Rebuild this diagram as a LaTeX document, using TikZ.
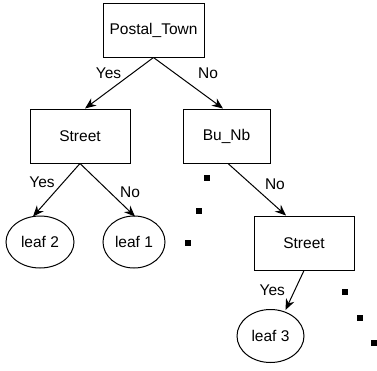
\documentclass[tikz,border=0pt]{standalone}
\usepackage{fontspec}
\setmainfont{Liberation Sans}
\usetikzlibrary{arrows.meta,shapes.geometric}

\begin{document}
\begin{tikzpicture}[
  x=1pt, y=-1pt,
  test/.style={draw, line width=1pt, minimum height=54pt, inner sep=0pt},
  leaf/.style={draw, line width=1pt, ellipse, minimum height=52pt, inner sep=0pt},
  branch/.style={line width=1pt, -{Stealth[length=11pt,width=9pt]}},
  gap/.style={fill=black, minimum size=6pt, inner sep=0pt},
  every node/.style={font=\fontsize{15.5}{18}\selectfont}
]
\useasboundingbox (0,0) rectangle (377,370);

\node[test, minimum width=101pt] (town) at (153.5,30) {Postal\_Town};
\node[test, minimum width=100pt] (street) at (80,136) {Street};
\node[test, minimum width=87pt] (bunb) at (226.5,136) {Bu\_Nb};
\node[test, minimum width=100pt] (street2) at (304,243) {Street};
\node[leaf, minimum width=68pt] (leaf2) at (40,242) {leaf 2};
\node[leaf, minimum width=62pt] (leaf1) at (134,242) {leaf 1};
\node[leaf, minimum width=67pt, minimum height=53pt] (leaf3) at (270.5,336) {leaf 3};

\draw[branch] (town.south) -- ([xshift=5pt]street.north) node[pos=0.3, left=8pt] {Yes};
\draw[branch] (town.south) -- ([xshift=-3.5pt]bunb.north) node[pos=0.3, right=20pt] {No};
\draw[branch] (street.south) -- ([xshift=-7pt,yshift=-1pt]leaf2.north) node[pos=0.35, left=5pt] {Yes};
\draw[branch] (street.south) -- ([xshift=1pt,yshift=-1pt]leaf1.north) node[pos=0.55, right=6pt] {No};
\draw[branch] ([xshift=1.5pt]bunb.south) -- ([xshift=-18pt]street2.north) node[pos=0.4, right=10pt] {No};
\draw[branch] (street2.south) -- ([xshift=15pt,yshift=-1pt]leaf3.north) node[pos=0.5, left=6pt] {Yes};

% missing branches
\foreach \x/\y [count=\i] in {207/178, 199/211, 188/243, 345/292, 360/318, 374/343}
  \node[gap] (gap\i) at (\x,\y) {};
\end{tikzpicture}
\end{document}
